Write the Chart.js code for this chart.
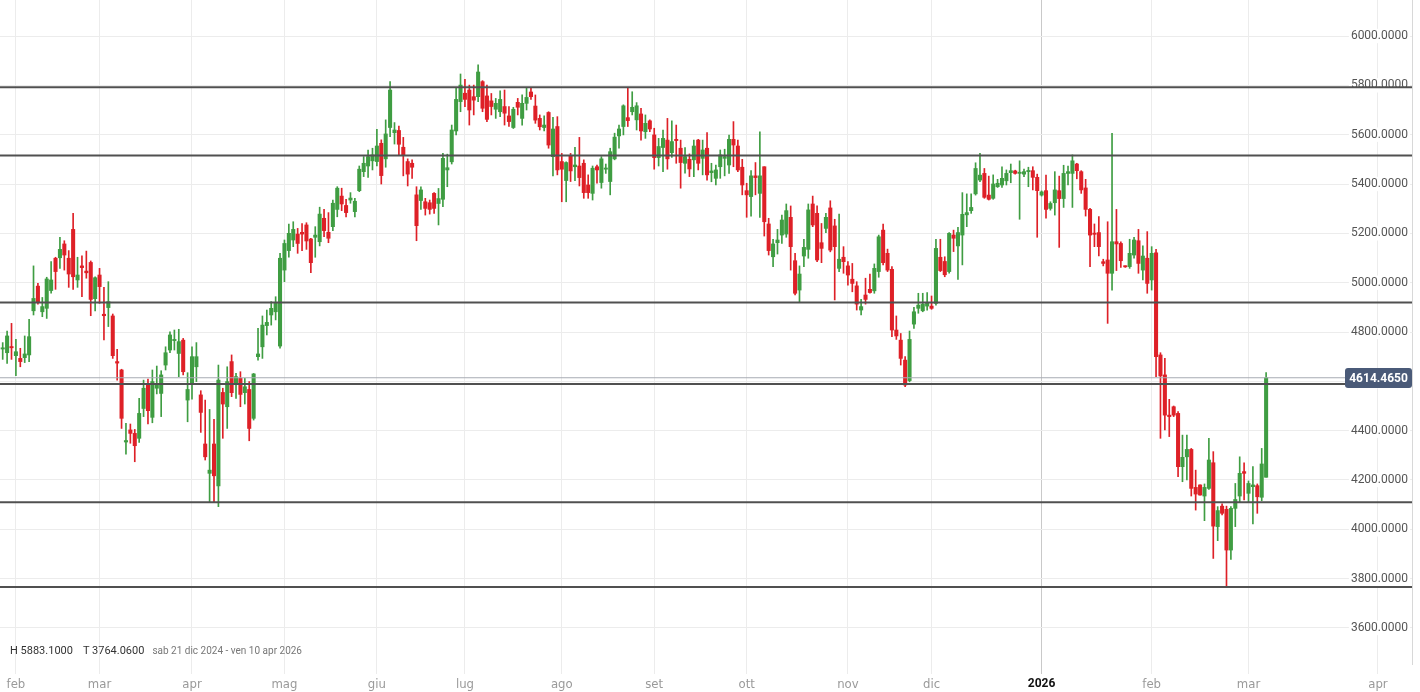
<!DOCTYPE html>
<html><head><meta charset="utf-8">
<script src="https://cdn.jsdelivr.net/npm/chart.js@4.4.1/dist/chart.umd.min.js"></script>
<style>
html,body{margin:0;padding:0;background:#fff;}
#wrap{position:relative;width:1420px;height:692px;}
canvas{display:block;}
#info{position:absolute;left:10px;top:644px;font-family:Roboto,'Liberation Sans',sans-serif;font-size:11px;color:#333;white-space:nowrap;}
#info .r{color:#777;font-size:10px;margin-left:8px;}
#info .t{margin-left:10px;}
</style></head><body>
<div id="wrap"><canvas id="c" width="1420" height="692"></canvas>
<div id="info">H 5883.1000<span class="t">T 3764.0600</span><span class="r">sab 21 dic 2024 - ven 10 apr 2026</span></div></div>
<script>
const opens = [4731,4716,4741,4704,4693,4696,4707,4886,4986,4882,4896,4968,5099,5101,5157,5099,5216,5011,5068,5047,5082,4935,5031,4872,4899,4865,4680,4646,4354,4403,4389,4369,4490,
4592,4454,4572,4551,4666,4727,4765,4713,4767,4524,4592,4659,4545,4346,4227,4346,4176,4555,4497,4680,4594,4612,4554,4567,4450,4700,4740,4826,4869,4882,4743,5051,
5130,5173,5197,5204,5234,5177,5184,5166,5261,5204,5227,5297,5351,5313,5335,5288,5373,5450,5473,5494,5491,5565,5502,5629,5608,5617,5549,5491,5484,5356,5333,
5328,5324,5362,5321,5338,5457,5490,5615,5734,5768,5781,5754,5754,5815,5757,5737,5703,5693,5714,5676,5629,5731,5666,5727,5773,5716,5666,5629,5690,5511,5633,5491,
5414,5514,5470,5473,5484,5396,5362,5470,5406,5460,5410,5502,5595,5633,5669,5693,5660,5684,5612,5656,5599,5507,5548,5578,5527,5581,5545,5484,5500,5498,5578,5504,
5545,5446,5423,5470,5504,5477,5581,5554,5468,5373,5349,5433,5362,5470,5238,5105,5162,5193,5197,5265,5089,4970,5108,5135,5319,5281,5162,5220,5303,5230,5058,5103,
5068,5014,4987,4889,4950,4973,4967,5045,5213,5119,5054,4808,4767,4686,4603,4832,4896,4886,4905,4905,4916,5103,5086,5045,5193,5149,5193,5275,5292,5360,5416,5443,
5355,5342,5389,5396,5413,5446,5453,5443,5440,5450,5454,5427,5355,5373,5301,5324,5373,5341,5443,5443,5481,5450,5384,5297,5200,5203,5085,5092,5038,5166,5159,
5066,5065,5112,5170,5051,5099,5011,5121,4707,4626,4463,4497,4470,4254,4294,4324,4170,4180,4135,4166,4270,4011,4094,4081,3916,4085,4135,4234,4146,4173,4177,4130,4211];
const highs = [4757,4804,4835,4770,4734,4784,4851,5068,4997,4940,5022,5085,5103,5184,5170,5130,5281,5103,5109,5128,5088,5024,5058,4981,5004,4873,4730,4649,4430,4427,4405,4531,4605,
4609,4646,4662,4643,4740,4801,4808,4811,4774,4635,4740,4757,4562,4524,4486,4446,4666,4572,4659,4707,4632,4639,4612,4599,4632,4815,4865,4889,4923,4943,5119,5173,
5238,5247,5220,5240,5243,5180,5227,5306,5297,5284,5335,5389,5383,5338,5365,5342,5473,5511,5538,5545,5622,5579,5660,5815,5649,5635,5589,5502,5498,5389,5389,
5342,5335,5365,5382,5524,5521,5639,5788,5846,5824,5801,5801,5883.1,5819,5801,5767,5747,5778,5781,5714,5711,5747,5761,5788,5792,5761,5680,5676,5693,5670,5673,5524,
5490,5524,5549,5589,5498,5437,5473,5477,5511,5481,5545,5606,5639,5721,5792,5774,5730,5707,5680,5660,5626,5585,5619,5666,5656,5639,5578,5548,5522,5578,5581,5578,
5608,5484,5477,5538,5541,5598,5653,5578,5500,5403,5454,5487,5612,5470,5261,5176,5216,5274,5319,5311,5119,5068,5176,5319,5351,5311,5240,5281,5332,5257,5278,5146,
5085,5078,5004,4932,5018,5035,5076,5193,5238,5136,5065,4865,4794,4700,4804,4900,4957,4957,4960,4946,5176,5176,5105,5203,5213,5224,5365,5360,5360,5486,5524,5463,
5432,5437,5419,5470,5457,5481,5456,5494,5460,5468,5470,5440,5372,5436,5328,5450,5432,5476,5473,5518,5484,5454,5419,5301,5238,5268,5095,5247,5605,5297,5166,
5068,5176,5184,5216,5149,5207,5146,5135,4716,4693,4527,4500,4477,4382,4382,4328,4240,4180,4184,4369,4315,4092,4103,4094,4092,4186,4294,4270,4196,4254,4184,4328,4635];
const lows = [4689,4673,4689,4623,4659,4676,4680,4869,4913,4862,4855,4957,4973,5058,5051,4981,4973,4981,4943,5018,4866,4885,4916,4768,4822,4693,4605,4409,4305,4349,4274,4352,4457,
4427,4432,4549,4457,4646,4716,4727,4619,4626,4436,4528,4599,4393,4281,4112,4109,4092,4369,4409,4538,4531,4497,4508,4359,4443,4686,4693,4788,4828,4849,4734,5004,
5103,5146,5119,5130,5135,5041,5103,5149,5186,5162,5211,5267,5292,5267,5322,5267,5369,5430,5427,5457,5473,5400,5468,5592,5562,5518,5433,5392,5423,5170,5297,
5274,5278,5281,5234,5308,5389,5481,5599,5693,5713,5639,5680,5734,5693,5653,5680,5666,5673,5639,5633,5625,5680,5639,5700,5743,5646,5619,5615,5545,5433,5437,5328,
5328,5410,5414,5392,5342,5342,5335,5403,5383,5443,5356,5498,5545,5599,5633,5680,5619,5578,5585,5612,5460,5473,5450,5460,5508,5484,5383,5444,5430,5430,5457,5437,
5416,5409,5396,5423,5433,5443,5470,5450,5356,5265,5270,5356,5265,5189,5112,5065,5116,5159,5184,5051,4950,4923,5065,5099,5227,5085,5081,5203,5125,4930,5045,5038,
4990,4963,4889,4869,4913,4957,4957,5022,5072,5045,4781,4770,4666,4578,4598,4815,4876,4882,4889,4892,4909,5045,5024,5038,5126,5013,5072,5227,5281,5355,5409,5342,
5335,5338,5386,5386,5396,5405,5440,5257,5430,5389,5376,5184,5351,5261,5294,5274,5143,5305,5396,5305,5421,5362,5270,5065,5146,5108,5068,4835,4970,5049,5062,
5062,5058,5099,5038,5011,4957,4970,4619,4369,4403,4376,4457,4213,4193,4200,4135,4078,4139,4035,4162,3882,3954,4058,3764.06,3878,4011,4112,4119,4112,4022,4065,4116,4211];
const closes = [4736,4784,4736,4720,4680,4711,4781,4936,4919,4903,5015,5011,5045,5135,5112,5035,5024,5031,5061,5040,4932,5020,4984,4866,4923,4704,4674,4450,4360,4389,4339,4470,4572,
4481,4599,4589,4626,4716,4788,4770,4761,4639,4567,4700,4700,4474,4294,4240,4217,4605,4508,4599,4554,4619,4547,4578,4409,4630,4711,4828,4839,4896,4916,5099,5159,
5200,5216,5159,5197,5169,5081,5193,5278,5211,5180,5322,5383,5319,5284,5343,5330,5460,5484,5511,5518,5554,5434,5603,5781,5619,5561,5518,5440,5468,5231,5376,
5301,5297,5301,5341,5504,5466,5619,5743,5801,5743,5700,5740,5854,5707,5662,5714,5727,5743,5687,5653,5703,5711,5727,5751,5754,5659,5632,5639,5558,5623,5457,5460,
5487,5453,5477,5426,5365,5365,5464,5457,5502,5463,5531,5590,5623,5717,5657,5711,5717,5615,5646,5623,5507,5552,5585,5502,5572,5576,5487,5511,5461,5554,5484,5538,
5437,5453,5457,5518,5511,5581,5558,5457,5396,5356,5433,5426,5433,5247,5130,5157,5173,5254,5292,5146,4957,5035,5143,5295,5234,5092,5139,5265,5132,5146,5095,5085,
5031,4997,4913,4903,4932,4960,5058,5186,5081,5051,4808,4784,4693,4585,4770,4882,4909,4913,4919,4896,5139,5049,5032,5200,5180,5203,5277,5284,5305,5463,5436,5346,
5338,5400,5403,5423,5443,5454,5443,5446,5450,5454,5427,5373,5368,5297,5321,5376,5341,5443,5450,5494,5454,5376,5297,5193,5196,5146,5078,5038,5166,5157,5089,
5064,5119,5173,5078,5108,4997,5119,4700,4622,4463,4457,4463,4254,4292,4324,4166,4143,4139,4170,4281,4013,4076,4065,3916,4085,4121,4227,4227,4186,4180,4132,4265,4614.465];

const levels = [5792, 5516, 4920, 4589, 4110, 3766];
const lastPrice = 4614.465;
const monthTickPos = [3,22,43,64,85,105,127,148,169,192,211,236,261,283,312.4];
const monthLabels = ['feb','mar','apr','mag','giu','lug','ago','set','ott','nov','dic','2026','feb','mar','apr'];
const yTickValues = [3600,3800,4000,4200,4400,4600,4800,5000,5200,5400,5600,5800,6000];

const GREEN = '#3f9d42', RED = '#de2027';
const X_MIN = -0.6134, X_MAX = 320.14;
const Y_MIN = 3454.05, Y_MAX = 6145.95;
const YEAR_IDX = monthLabels.indexOf('2026');

const idx = closes.map((_, i) => i);
const colors = idx.map(i => closes[i] >= opens[i] ? GREEN : RED);
const bodies = idx.map(i => ({x: i, y: [opens[i], closes[i]]}));
const wicks = idx.map(i => ({x: i, y: [lows[i], highs[i]]}));

const lineSets = levels.map(v => ({
  type: 'line', data: [{x: X_MIN, y: v}, {x: X_MAX, y: v}],
  borderColor: '#505050', borderWidth: 2, pointRadius: 0, order: 1
}));
lineSets.push({
  type: 'line', data: [{x: X_MIN, y: lastPrice}, {x: X_MAX, y: lastPrice}],
  borderColor: '#a7abb3', borderWidth: 1, pointRadius: 0, order: 1
});

const axisFont = "'Liberation Sans Narrow','DejaVu Sans Condensed',Roboto,sans-serif";

const priceTag = {
  id: 'priceTag',
  afterDraw(chart) {
    const ctx = chart.ctx;
    const y = chart.scales.y.getPixelForValue(closes[closes.length - 1]);
    const w = 67, h = 20;
    const x = chart.chartArea.right - w;
    ctx.save();
    ctx.fillStyle = '#4a5a78';
    ctx.beginPath();
    ctx.roundRect(x, Math.round(y - h / 2), w, h, 3);
    ctx.fill();
    ctx.fillStyle = '#ffffff';
    ctx.font = "bold 12px Roboto, 'Liberation Sans', sans-serif";
    ctx.textAlign = 'center';
    ctx.textBaseline = 'middle';
    ctx.fillText(closes[closes.length - 1].toFixed(4), x + w / 2, Math.round(y) + 1);
    ctx.restore();
  }
};

new Chart(document.getElementById('c'), {
  type: 'bar',
  data: {
    datasets: [
      {type: 'bar', data: wicks, backgroundColor: colors, barThickness: 1, grouped: false, order: 3, borderWidth: 0},
      {type: 'bar', data: bodies, backgroundColor: colors, barThickness: 3.4, minBarLength: 1.2, grouped: false, order: 2, borderWidth: 0},
      ...lineSets
    ]
  },
  options: {
    responsive: false,
    animation: false,
    devicePixelRatio: 1,
    layout: {padding: 0},
    plugins: {legend: {display: false}, tooltip: {enabled: false}},
    scales: {
      x: {
        type: 'linear', min: X_MIN, max: X_MAX, offset: false,
        afterBuildTicks: s => { s.ticks = monthTickPos.map(v => ({value: v})); },
        afterFit: s => { s.height = 28; },
        ticks: {
          autoSkip: false, maxRotation: 0, padding: 3,
          callback: (v, i) => monthLabels[i],
          color: c => c.index === YEAR_IDX ? '#111' : '#9a9a9a',
          font: c => c.index === YEAR_IDX ? {family: "Roboto, 'Liberation Sans', sans-serif", size: 12, weight: 'bold'} : {family: axisFont, size: 13}
        },
        grid: {
          offset: false,
          color: c => c.index === YEAR_IDX ? '#c9c9c9' : '#ececec',
          tickColor: c => c.index === YEAR_IDX ? '#c9c9c9' : '#ececec',
          tickLength: 10, drawTicks: true
        },
        border: {display: false}
      },
      y: {
        position: 'right', min: Y_MIN, max: Y_MAX,
        afterBuildTicks: s => { s.ticks = yTickValues.map(v => ({value: v})); },
        afterFit: s => { s.width = 8; },
        ticks: {display: false},
        grid: {color: '#ececec', drawTicks: false},
        border: {display: true, color: '#d8d8d8'}
      },
      y2: {
        position: 'right', min: Y_MIN, max: Y_MAX, z: 1,
        afterBuildTicks: s => { s.ticks = yTickValues.map(v => ({value: v})); },
        afterFit: s => { s.width = 0; },
        grid: {display: false, drawTicks: false},
        border: {display: false},
        ticks: {
          mirror: true, padding: -12, color: '#555',
          font: {family: "Roboto, 'Liberation Sans', sans-serif", size: 12},
          callback: v => Number(v).toFixed(4),
          showLabelBackdrop: true, backdropColor: '#ffffff', backdropPadding: {x: 2, y: 0}
        }
      }
    }
  },
  plugins: [priceTag]
});
</script>
</body></html>
